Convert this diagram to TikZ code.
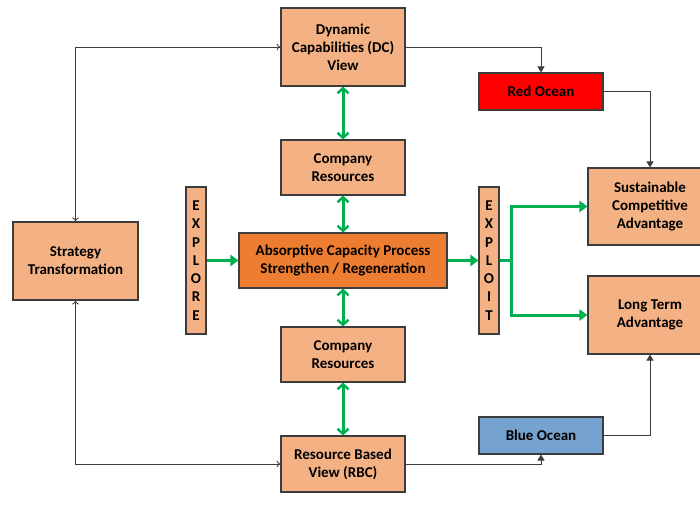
\documentclass[tikz,border=0pt]{standalone}
\usepackage{fontspec}
\setmainfont{Carlito}
\usetikzlibrary{arrows.meta,shadows}
\definecolor{boxfill}{RGB}{244,177,131}
\definecolor{acpfill}{RGB}{237,125,49}
\definecolor{redfill}{RGB}{255,0,0}
\definecolor{bluefill}{RGB}{117,162,206}
\definecolor{grn}{RGB}{0,176,80}
\definecolor{edge}{RGB}{60,60,60}
\tikzset{
  box/.style={draw=edge, line width=1.1pt, fill=boxfill, align=center,
    font=\fontsize{15}{18}\selectfont\bfseries, inner sep=0pt,
    drop shadow={shadow xshift=1.2pt, shadow yshift=-1.2pt, opacity=0.25}},
  vbox/.style={box, minimum width=20pt, minimum height=147pt, font=\fontsize{15}{18.3}\selectfont\bfseries},
  gline/.style={draw=grn, line width=3pt},
  gboth/.style={gline, {Straight Barb[length=5pt,width=11pt,line width=2.5pt]}-{Straight Barb[length=5pt,width=11pt,line width=2.5pt]}},
  garr/.style={gline, -{Triangle[length=8pt,width=11pt]}},
  kline/.style={draw=edge, line width=0.8pt},
  kboth/.style={kline, {To[length=4pt,width=7pt]}-{To[length=4pt,width=7pt]}},
  karr/.style={kline, -{Triangle[length=6pt,width=7pt]}},
}
\begin{document}
\begin{tikzpicture}[x=1pt,y=-1pt]
\useasboundingbox (0,0) rectangle (700,513);
\node[box, minimum width=124pt, minimum height=78pt] (dc) at (343,47) {Dynamic\\Capabilities (DC)\\View};
\node[box, minimum width=124pt, minimum height=55pt] (cr1) at (343,167.5) {Company\\Resources};
\node[box, fill=acpfill, minimum width=208pt, minimum height=55pt] (acp) at (343,260.5) {Absorptive Capacity Process\\Strengthen / Regeneration};
\node[box, minimum width=124pt, minimum height=55pt] (cr2) at (343,354.5) {Company\\Resources};
\node[box, minimum width=124pt, minimum height=56pt] (rbv) at (343,464) {Resource Based\\View (RBC)};
\node[box, minimum width=125pt, minimum height=78pt] (st) at (75.5,261) {Strategy\\Transformation};
\node[vbox] (exl) at (196,260.5) {E\\X\\P\\L\\O\\R\\E};
\node[vbox] (exi) at (489,260.5) {E\\X\\P\\L\\O\\I\\T};
\node[box, fill=redfill, minimum width=124pt, minimum height=37pt] (red) at (541,91.5) {Red Ocean};
\node[box, fill=bluefill, minimum width=124pt, minimum height=37pt] (blue) at (541,435.5) {Blue Ocean};
\node[box, minimum width=124pt, minimum height=77pt] (sca) at (650,206.5) {Sustainable\\Competitive\\Advantage};
\node[box, minimum width=124pt, minimum height=78pt] (lta) at (650,315) {Long Term\\Advantage};

% green vertical links
\draw[gboth] (dc.south) -- (cr1.north);
\draw[gboth] (cr1.south) -- (acp.north);
\draw[gboth] (acp.south) -- (cr2.north);
\draw[gboth] (cr2.south) -- (rbv.north);
% explore / exploit
\draw[garr] (exl.east) -- (acp.west);
\draw[garr] (acp.east) -- (exi.west);
\coordinate (sp) at (511,260.5);
\draw[gline] (exi.east) -- (sp);
\draw[garr, line join=miter] (sp) |- (sca.west);
\draw[garr, line join=miter] (sp) |- (lta.west);
% black connectors
\draw[kboth] (st.north) |- (dc.west);
\draw[kboth] (st.south) |- (rbv.west);
\draw[karr] (dc.east) -| (red.north);
\draw[karr] (red.east) -| (sca.north);
\draw[karr] (rbv.east) -| (blue.south);
\draw[karr] (blue.east) -| (lta.south);
\end{tikzpicture}
\end{document}
